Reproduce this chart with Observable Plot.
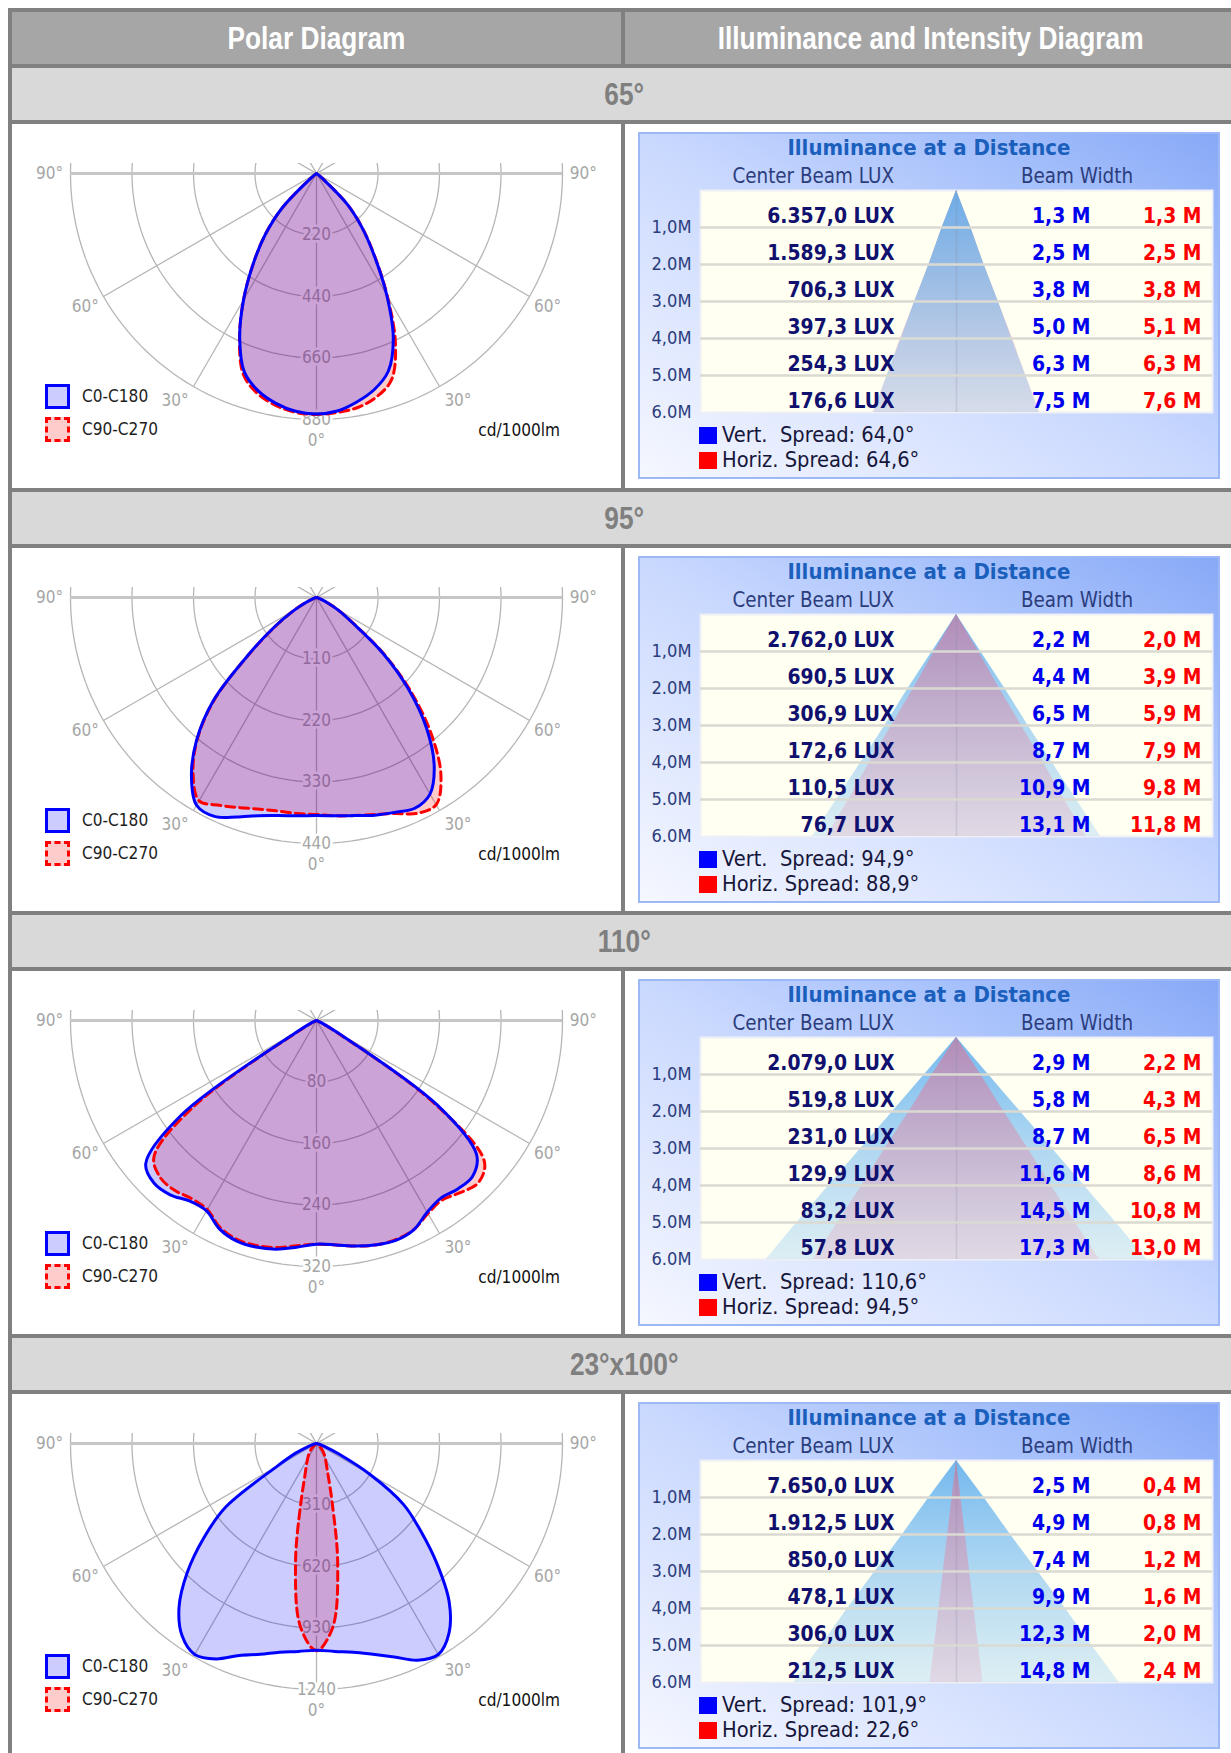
<!DOCTYPE html>
<html><head><meta charset="utf-8">
<script src="https://cdn.jsdelivr.net/npm/d3@7"></script>
<script src="https://cdn.jsdelivr.net/npm/@observablehq/plot@0.6"></script>
<style>
html,body{margin:0;padding:0;background:#fff;width:1231px;height:1753px;overflow:hidden;}
#table{position:absolute;left:8px;top:8px;display:grid;grid-template-columns:609px 611px;
  grid-template-rows:52px 52px 364px 52px 363px 52px 363px 52px 370px;gap:4px;padding:4px;background:#808080;}
.hdr,.sec{display:flex;align-items:center;justify-content:center;font-weight:bold;font-size:32px;font-family:"Liberation Sans",Arial,sans-serif;}
.hdr{background:#a6a6a6;color:#fff;}
.sec{grid-column:1 / span 2;background:#d9d9d9;color:#7f7f7f;}
.hdr span,.sec span{display:inline-block;transform:scaleX(0.82);white-space:nowrap;}
.cell{background:#fff;position:relative;overflow:hidden;}
.cell svg{position:absolute;left:0;top:0;}
.lg{position:absolute;left:70px;color:#1e1e1e;line-height:20px;white-space:nowrap;}
.sw{position:absolute;left:33px;width:19px;height:19px;}
.swb{background:#ccccff;border:3px solid #0000ff;}
.swr{background:#ffcccc;border:3px dashed #ff0000;}
.unit{position:absolute;right:61px;color:#111;line-height:20px;}
.box{position:absolute;left:13px;top:8px;width:582px;height:347px;
  background:linear-gradient(to top right,#f6f8ff 0%,#c9d8fe 50%,#a4bffb 78%,#87a8f7 100%);
  box-shadow:inset 0 0 0 2px #9cb8f5;}
.box svg{position:absolute;left:0;top:52px;}
.bt{position:absolute;top:3px;left:0;width:582px;text-align:center;font-weight:bold;color:#1b5fbd;line-height:26px;}
.bh{position:absolute;top:32px;color:#2b3d7d;line-height:24px;white-space:nowrap;}
.bl{position:absolute;left:84px;color:#16163a;line-height:24px;white-space:pre;}
.sq{position:absolute;left:61px;width:18px;height:17px;}
</style>
</head><body>
<div id="table"></div>
<script>
// ---------- DATA ----------
const columnTitles = ["Polar Diagram", "Illuminance and Intensity Diagram"];
const sectionTitles = ["65°", "95°", "110°", "23°x100°"];
const ringTicks1 = [220, 440, 660, 880];
const ringTicks2 = [110, 220, 330, 440];
const ringTicks3 = [80, 160, 240, 320];
const ringTicks4 = [310, 620, 930, 1240];
const angleTicks = [-90, -60, -30, 0, 30, 60, 90];
const planeNames = ["C0-C180", "C90-C270"];
const unitLabel = "cd/1000lm";
// intensity (cd/1000lm) at gamma angles 0..90 deg, each half plane
const gammaAngles = [0,5,10,15,20,25,30,35,40,45,50,55,60,65,70,75,80,85,90];
const p1C0   = [860,853,830,800,752,650,503,362,255,156,30,8,3,0,0,0,0,0,0];
const p1C180 = [860,854,835,805,755,650,522,395,285,172,30,8,3,0,0,0,0,0,0];
const p1C90  = [862,858,850,828,785,668,507,365,257,156,30,8,3,0,0,0,0,0,0];
const p1C270 = [862,858,842,815,765,652,522,395,285,170,30,8,3,0,0,0,0,0,0];
const p2C0   = [390,392,396,403,409,416,406,367,307,234,155,78,45,20,8,3,0,0,0];
const p2C180 = [390,392,396,404,418,432,429,390,334,261,158,92,48,22,8,3,0,0,0];
const p2C90  = [390,392,396,402,411,426,428,388,320,240,158,80,45,20,8,3,0,0,0];
const p2C270 = [388,388,388,392,400,410,420,385,332,258,156,90,48,22,8,3,0,0,0];
const p3C0   = [291,293,298,302,304,300,288,282,286,287,272,192,32,8,3,0,0,0,0];
const p3C180 = [291,296,302,305,305,299,286,287,296,299,290,215,28,8,3,0,0,0,0];
const p3C90  = [291,293,298,302,303,300,290,285,292,298,285,185,28,6,2,0,0,0,0];
const p3C270 = [291,294,300,303,303,297,284,283,288,288,276,195,22,6,2,0,0,0,0];
const p4C0   = [1042,1052,1068,1100,1145,1205,1228,1165,1040,860,685,535,310,120,45,15,5,0,0];
const p4C180 = [1042,1052,1068,1100,1137,1198,1228,1182,1078,922,743,560,228,118,45,15,5,0,0];
const p4C90  = [1045,932,615,302,172,118,90,68,50,30,15,8,4,2,0,0,0,0,0];
const p4C270 = [1045,928,608,300,170,120,90,68,50,30,15,8,4,2,0,0,0,0,0];
// illuminance at a distance
const distances = [1, 2, 3, 4, 5, 6];
const distanceLabels = ["1,0M", "2.0M", "3.0M", "4,0M", "5.0M", "6.0M"];
const lux1 = [6357.0, 1589.3, 706.3, 397.3, 254.3, 176.6];
const lux2 = [2762.0, 690.5, 306.9, 172.6, 110.5, 76.7];
const lux3 = [2079.0, 519.8, 231.0, 129.9, 83.2, 57.8];
const lux4 = [7650.0, 1912.5, 850.0, 478.1, 306.0, 212.5];
const vert1 = [1.3, 2.5, 3.8, 5.0, 6.3, 7.5];
const vert2 = [2.2, 4.4, 6.5, 8.7, 10.9, 13.1];
const vert3 = [2.9, 5.8, 8.7, 11.6, 14.5, 17.3];
const vert4 = [2.5, 4.9, 7.4, 9.9, 12.3, 14.8];
const horiz1 = [1.3, 2.5, 3.8, 5.1, 6.3, 7.6];
const horiz2 = [2.0, 3.9, 5.9, 7.9, 9.8, 11.8];
const horiz3 = [2.2, 4.3, 6.5, 8.6, 10.8, 13.0];
const horiz4 = [0.4, 0.8, 1.2, 1.6, 2.0, 2.4];
const vertSpread = [64.0, 94.9, 110.6, 101.9];
const horizSpread = [64.6, 88.9, 94.5, 22.6];

// ---------- groupings ----------
const ringTicks = [ringTicks1, ringTicks2, ringTicks3, ringTicks4];
const planeC0 = [p1C0, p2C0, p3C0, p4C0];
const planeC180 = [p1C180, p2C180, p3C180, p4C180];
const planeC90 = [p1C90, p2C90, p3C90, p4C90];
const planeC270 = [p1C270, p2C270, p3C270, p4C270];
const luxValues = [lux1, lux2, lux3, lux4];
const vertWidths = [vert1, vert2, vert3, vert4];
const horizWidths = [horiz1, horiz2, horiz3, horiz4];

// ---------- fonts ----------
function hasFont(name) {
  const c = document.createElement("canvas").getContext("2d");
  const s = "mmmmmmmmmmlli1WW0.,";
  c.font = "40px monospace"; const w0 = c.measureText(s).width;
  c.font = `40px "${name}", monospace`; const w1 = c.measureText(s).width;
  return Math.abs(w1 - w0) > 0.5;
}
const COND = hasFont("DejaVu Sans Condensed");
const FF = COND ? "DejaVu Sans Condensed" : "DejaVu Sans";
const S = COND ? 1.1 : 1;
const px = v => (v * S).toFixed(1) + "px";

const rad = Math.PI / 180;
const fmt1 = v => { const [i, f] = v.toFixed(1).split("."); return i.replace(/\B(?=(\d{3})+(?!\d))/g, ".") + "," + f; };

function shape(left, right) {
  const pts = [{x: 0, y: 0}];
  for (let i = gammaAngles.length - 1; i >= 0; i--) if (left[i] > 0) pts.push({x: -left[i] * Math.sin(gammaAngles[i] * rad), y: -left[i] * Math.cos(gammaAngles[i] * rad)});
  for (let i = 1; i < gammaAngles.length; i++) if (right[i] > 0) pts.push({x: right[i] * Math.sin(gammaAngles[i] * rad), y: -right[i] * Math.cos(gammaAngles[i] * rad)});
  pts.push({x: 0, y: 0});
  return pts;
}

function polarPanel(cell, k) {
  const ticks = ringTicks[k], M = ticks[ticks.length - 1];
  const R = 246, cx = 304, cy = 49;
  const fs = 15.5 * S;
  const arcs = [];
  for (const v of ticks) for (let a = -120; a <= 120; a += 2) arcs.push({v, x: v * Math.sin(a * rad), y: -v * Math.cos(a * rad)});
  const radials = [-60, -30, 30, 60].map(a => ({x1: M * Math.sin(a * rad), y1: -M * Math.cos(a * rad), x2: -0.3 * M * Math.sin(a * rad), y2: 0.3 * M * Math.cos(a * rad)}));
  const labels = angleTicks.map(a => ({a, x: 1.085 * M * Math.sin(a * rad), y: -1.085 * M * Math.cos(a * rad), t: Math.abs(a) + "°"}));
  const blue = shape(planeC180[k], planeC0[k]);
  const red = shape(planeC270[k], planeC90[k]);
  const svg = Plot.plot({
    width: 609, height: 363,
    marginTop: cy - 10, marginRight: 0, marginBottom: 0, marginLeft: 0,
    x: {domain: [-M, M], range: [cx - R, cx + R], axis: null},
    y: {domain: [-M, M], range: [cy + R, cy - R], axis: null},
    style: {fontFamily: FF, background: "transparent", overflow: "visible"},
    marks: [
      Plot.line(arcs, {x: "x", y: "y", z: "v", stroke: "#b6b6b6", strokeWidth: 1.3, clip: true}),
      Plot.link(radials, {x1: "x1", y1: "y1", x2: "x2", y2: "y2", stroke: "#b6b6b6", strokeWidth: 1.3, clip: true}),
      Plot.ruleX([0], {y1: -M, y2: 0, stroke: "#b6b6b6", strokeWidth: 1.3}),
      Plot.ruleY([0], {x1: -M, x2: M, stroke: "#c6c6c6", strokeWidth: 3}),
      Plot.text(ticks, {x: 0, y: d => -d, text: d => String(d), fill: "#a6a6a6", stroke: "white", strokeWidth: 5, fontSize: fs}),
      Plot.line(red, {x: "x", y: "y", curve: "catmull-rom", fill: "red", fillOpacity: 0.2, stroke: "none"}),
      Plot.line(blue, {x: "x", y: "y", curve: "catmull-rom", fill: "blue", fillOpacity: 0.2, stroke: "none"}),
      Plot.line(red, {x: "x", y: "y", curve: "catmull-rom", stroke: "#ff0000", strokeWidth: 3, strokeDasharray: "9,5"}),
      Plot.line(blue, {x: "x", y: "y", curve: "catmull-rom", stroke: "#0000ff", strokeWidth: 3}),
      Plot.text(labels.filter(d => Math.abs(d.a) !== 30), {x: "x", y: "y", text: "t", fill: "#a6a6a6", fontSize: fs}),
      Plot.text(labels.filter(d => d.a === -30), {x: "x", y: "y", text: "t", fill: "#a6a6a6", fontSize: fs, dx: -8, dy: -4}),
      Plot.text(labels.filter(d => d.a === 30), {x: "x", y: "y", text: "t", fill: "#a6a6a6", fontSize: fs, dx: 8, dy: -4})
    ]
  });
  cell.appendChild(svg);
  const f = `font-family:'${FF}';font-size:${px(15.5)}`;
  cell.insertAdjacentHTML("beforeend",
    `<div class="sw swb" style="top:260px"></div><div class="lg" style="top:262px;${f}">${planeNames[0]}</div>` +
    `<div class="sw swr" style="top:293px"></div><div class="lg" style="top:295px;${f}">${planeNames[1]}</div>` +
    `<div class="unit" style="top:296px;${f}">${unitLabel}</div>`);
}

function addGradient(defs, id, c0, o0, c1, o1) {
  const g = defs.append("linearGradient").attr("id", id).attr("x1", 0).attr("y1", 0).attr("x2", 0).attr("y2", 1);
  g.append("stop").attr("offset", "0%").attr("stop-color", c0).attr("stop-opacity", o0);
  g.append("stop").attr("offset", "100%").attr("stop-color", c1).attr("stop-opacity", o1);
}

function beamPanel(cell, k) {
  const box = document.createElement("div");
  box.className = "box";
  cell.appendChild(box);
  const f = s => `font-family:'${FF}';font-size:${px(s)}`;
  box.innerHTML =
    `<div class="bt" style="${f(20)}">Illuminance at a Distance</div>` +
    `<div class="bh" style="left:0;width:256px;text-align:right;${f(18.5)}">Center Beam LUX</div>` +
    `<div class="bh" style="left:339px;width:200px;text-align:center;${f(18.5)}">Beam Width</div>` +
    `<div class="sq" style="top:295px;background:#0000ff"></div><div class="bl" style="top:291px;${f(19.7)}">Vert.  Spread: ${fmt1(vertSpread[k])}°</div>` +
    `<div class="sq" style="top:320px;background:#ff0000"></div><div class="bl" style="top:316px;${f(19.7)}">Horiz. Spread: ${fmt1(horizSpread[k])}°</div>`;
  const rows = distances.map((d, i) => ({d, lux: luxValues[k][i], v: vertWidths[k][i], h: horizWidths[k][i]}));
  const coneV = [{d: 0, w: 0}, ...rows.map(r => ({d: r.d, w: r.v}))];
  const coneH = [{d: 0, w: 0}, ...rows.map(r => ({d: r.d, w: r.h}))];
  const lastV = vertWidths[k][5], lastH = horizWidths[k][5];
  const coneMarks = {
    v: Plot.areaX(coneV, {y: "d", x1: d => -d.w / 2, x2: d => d.w / 2, fill: `url(#bg${k})`}),
    h: Plot.areaX(coneH, {y: "d", x1: d => -d.w / 2, x2: d => d.w / 2, fill: `url(#rg${k})`})
  };
  const order = lastV >= lastH ? ["v", "h"] : ["h", "v"];
  const half = 512 / 22 / 2;
  const nfs = 19 * S;
  const svg = Plot.plot({
    width: 582, height: 238,
    marginTop: 6, marginBottom: 10, marginLeft: 62, marginRight: 8,
    x: {domain: [-half, half], axis: null},
    y: {domain: [6, 0], axis: null},
    style: {fontFamily: FF, background: "transparent", color: "#2b3d7d", overflow: "visible"},
    marks: [
      Plot.frame({fill: "#fffff2", stroke: "#eef0f6", strokeWidth: 2}),
      coneMarks[order[0]],
      coneMarks[order[1]],
      Plot.ruleX([0], {y1: 0, y2: 6, stroke: "#8c8ca0", strokeOpacity: 0.25, strokeWidth: 1.5}),
      Plot.ruleY(distances.slice(0, 5), {stroke: "#dadad2", strokeWidth: 2.5}),
      Plot.axisY(distances, {anchor: "left", tickSize: 0, tickPadding: 9, fontSize: 16.5 * S, tickFormat: d => distanceLabels[distances.indexOf(d)], label: null}),
      Plot.text(rows, {y: d => d.d - 0.5, frameAnchor: "left", dx: 194, dy: 7, textAnchor: "end", text: d => fmt1(d.lux) + " LUX", fill: "#10106e", fontWeight: "bold", fontSize: nfs}),
      Plot.text(rows, {y: d => d.d - 0.5, frameAnchor: "left", dx: 390, dy: 7, textAnchor: "end", text: d => fmt1(d.v) + " M", fill: "#0000ee", fontWeight: "bold", fontSize: nfs}),
      Plot.text(rows, {y: d => d.d - 0.5, frameAnchor: "left", dx: 501, dy: 7, textAnchor: "end", text: d => fmt1(d.h) + " M", fill: "#ff0000", fontWeight: "bold", fontSize: nfs})
    ]
  });
  const defs = d3.select(svg).insert("defs", ":first-child");
  addGradient(defs, `bg${k}`, "#62b0ee", 0.9, "#9ccff4", 0.35);
  addGradient(defs, `rg${k}`, "#c382aa", 0.8, "#e6b9cd", 0.4);
  box.appendChild(svg);
}

// ---------- LAYOUT ----------
const table = document.getElementById("table");
for (const t of columnTitles) {
  const h = document.createElement("div"); h.className = "hdr";
  const s = document.createElement("span"); s.textContent = t; h.appendChild(s); table.appendChild(h);
}
sectionTitles.forEach((t, k) => {
  const s = document.createElement("div"); s.className = "sec";
  const sp = document.createElement("span"); sp.textContent = t; s.appendChild(sp); table.appendChild(s);
  const left = document.createElement("div"); left.className = "cell"; table.appendChild(left);
  const right = document.createElement("div"); right.className = "cell"; table.appendChild(right);
  polarPanel(left, k);
  beamPanel(right, k);
});
</script>
</body></html>
